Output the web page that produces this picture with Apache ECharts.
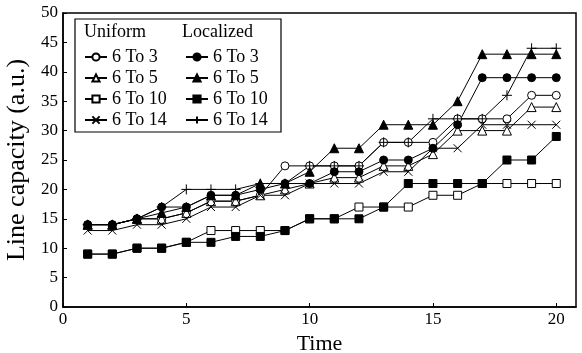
<!DOCTYPE html>
<html>
<head>
<meta charset="UTF-8">
<script src="https://cdn.jsdelivr.net/npm/echarts@6/dist/echarts.min.js"></script>
<style>
  body { margin: 0; background: #fff; }
  #chart { width: 582px; height: 353px; }
</style>
</head>
<body>
<div id="chart"></div>
<script>
// time steps
const times = [1, 2, 3, 4, 5, 6, 7, 8, 9, 10, 11, 12, 13, 14, 15, 16, 17, 18, 19, 20];

// uniform
const uni3  = [14, 14, 15, 15, 16, 18, 18, 19, 24, 24, 24, 24, 28, 28, 28, 32, 32, 32, 36, 36];
const uni5  = [14, 14, 15, 15, 16, 18, 18, 19, 20, 21, 22, 22, 24, 24, 26, 30, 30, 30, 34, 34];
const uni10 = [9, 9, 10, 10, 11, 13, 13, 13, 13, 15, 15, 17, 17, 17, 19, 19, 21, 21, 21, 21];
const uni14 = [13, 13, 14, 14, 15, 17, 17, 19, 19, 21, 21, 21, 23, 23, 27, 27, 31, 31, 31, 31];

// localized
const loc3  = [14, 14, 15, 17, 17, 19, 19, 20, 21, 21, 23, 23, 25, 25, 27, 31, 39, 39, 39, 39];
const loc5  = [14, 14, 15, 16, 17, 19, 19, 21, 21, 23, 27, 27, 31, 31, 31, 35, 43, 43, 43, 43];
const loc10 = [9, 9, 10, 10, 11, 11, 12, 12, 13, 15, 15, 15, 17, 21, 21, 21, 21, 25, 25, 29];
const loc14 = [14, 14, 15, 17, 20, 20, 20, 21, 21, 24, 24, 24, 28, 28, 32, 32, 32, 36, 44, 44];

const uniNames = ['Uniform 6 To 3', 'Uniform 6 To 5', 'Uniform 6 To 10', 'Uniform 6 To 14'];
const locNames = ['Localized 6 To 3', 'Localized 6 To 5', 'Localized 6 To 10', 'Localized 6 To 14'];

const FONT = "'Liberation Serif', 'Times New Roman', serif";
const CROSS = 'path://M0,0L10,10M0,10L10,0';
const PLUS = 'path://M5,0L5,10M0,5L10,5';

function pairs(vals) {
  return times.map((t, i) => [t, vals[i]]);
}

function mk(name, vals, symbol, size, filled) {
  return {
    name: name,
    type: 'line',
    data: pairs(vals),
    symbol: symbol,
    symbolSize: size,
    showAllSymbol: true,
    lineStyle: { color: '#000', width: 1 },
    itemStyle: {
      color: filled ? '#000' : '#fff',
      borderColor: '#000',
      borderWidth: 1
    }
  };
}

const chart = echarts.init(document.getElementById('chart'));

const legendBase = {
  orient: 'vertical',
  top: 48,
  padding: 0,
  itemWidth: 22,
  itemHeight: 9,
  itemGap: 3,
  selectedMode: false,
  textStyle: { fontFamily: FONT, fontSize: 18, color: '#000' },
  formatter: name => name.replace(/^\S+ /, '')
};

chart.setOption({
  animation: false,
  grid: {
    left: 63, right: 6, top: 13, bottom: 46,
    outerBoundsMode: 'none',
    containLabel: false,
    show: true, borderColor: '#000', borderWidth: 1.5
  },
  legend: [
    Object.assign({}, legendBase, { left: 84, data: uniNames }),
    Object.assign({}, legendBase, { left: 185, data: locNames })
  ],
  graphic: [
    {
      type: 'rect',
      shape: { x: 75, y: 19, width: 206, height: 113 },
      style: { fill: 'none', stroke: '#000', lineWidth: 1.2 }
    },
    {
      type: 'text', x: 84, y: 23,
      style: { text: 'Uniform', font: '18px ' + FONT, fill: '#000' }
    },
    {
      type: 'text', x: 182, y: 23,
      style: { text: 'Localized', font: '18px ' + FONT, fill: '#000' }
    }
  ],
  xAxis: {
    type: 'value',
    min: 0, max: 20.8, interval: 5,
    name: 'Time',
    nameLocation: 'middle',
    nameGap: 20,
    nameTextStyle: { fontFamily: FONT, fontSize: 22, color: '#000' },
    axisLine: { lineStyle: { color: '#000', width: 1.5 } },
    axisTick: { inside: true, length: 4, lineStyle: { color: '#000' } },
    axisLabel: { showMaxLabel: false, margin: 4, fontFamily: FONT, fontSize: 17, color: '#000' },
    splitLine: { show: false }
  },
  yAxis: {
    type: 'value',
    min: 0, max: 50, interval: 5,
    name: 'Line capacity (a.u.)',
    nameLocation: 'middle',
    nameGap: 25,
    nameTextStyle: { fontFamily: FONT, fontSize: 26, color: '#000' },
    axisLine: { lineStyle: { color: '#000', width: 1.5 } },
    axisTick: { inside: true, length: 4, lineStyle: { color: '#000' } },
    axisLabel: { margin: 5, fontFamily: FONT, fontSize: 17, color: '#000' },
    splitLine: { show: false }
  },
  series: [
    mk(uniNames[0], uni3, 'circle', 8, false),
    mk(uniNames[1], uni5, 'triangle', 9, false),
    mk(uniNames[2], uni10, 'rect', 8, false),
    mk(uniNames[3], uni14, CROSS, 8, false),
    mk(locNames[0], loc3, 'circle', 8, true),
    mk(locNames[1], loc5, 'triangle', 9, true),
    mk(locNames[2], loc10, 'rect', 8, true),
    mk(locNames[3], loc14, PLUS, 10, true)
  ]
});
</script>
</body>
</html>
